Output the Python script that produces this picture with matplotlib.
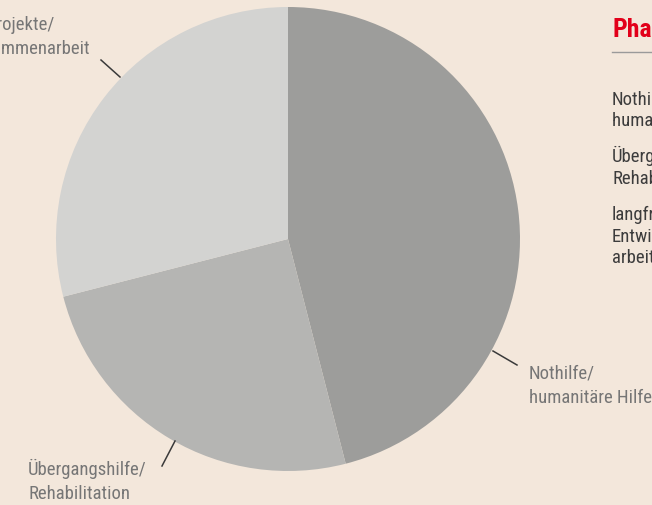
import matplotlib
matplotlib.use('Agg')
import matplotlib.pyplot as plt

plt.rcParams['font.family'] = ['Roboto Condensed', 'Asap Condensed', 'Barlow Condensed',
                               'Liberation Sans Narrow', 'DejaVu Sans']

# Anteile in Prozent (im Uhrzeigersinn ab 12 Uhr)
categories = [['Nothilfe/', 'humanitäre Hilfe'],
              ['Übergangshilfe/', 'Rehabilitation'],
              ['Entwicklungsprojekte/', 'Entwicklungszusammenarbeit']]
values = [46, 25, 29]
colors = ['#9d9d9b', '#b5b5b3', '#d3d3d1']
legend_title = 'Phasen'
legend_items = [['Nothilfe/', 'humanitäre Hilfe'],
                ['Übergangshilfe/', 'Rehabilitation'],
                ['langfristige', 'Entwicklungszusammen-', 'arbeit']]

W, H = 652, 506
bg = '#f3e7db'
fig = plt.figure(figsize=(W / 100, H / 100), dpi=100, facecolor=bg)
ax = fig.add_axes([0, 0, 1, 1])
ax.set_facecolor(bg)

cx, cy, r = 288, H - 240, 232
ax.pie(values, colors=colors, startangle=90, counterclock=False,
       center=(cx, cy), radius=r, frame=True,
       wedgeprops=dict(linewidth=0))
ax.set_xlim(0, W)
ax.set_ylim(0, H)
ax.axis('off')


def lines(x, y0, txts, step, ha='left', **kw):
    # y0 = Grundlinie der ersten Zeile in Bildpixeln (von oben)
    for i, t in enumerate(txts):
        ax.text(x, H - (y0 + i * step), t, ha=ha, va='baseline', **kw)


lab_col = '#767676'
line_col = '#3a3a3a'
# Beschriftungen mit Hinweislinien
ax.plot([493, 517], [H - 352, H - 366], color=line_col, lw=1.1)
lines(529, 379, categories[0], 24, fontsize=13.5, color=lab_col)

ax.plot([175, 162], [H - 442, H - 467], color=line_col, lw=1.1)
lines(28, 475, categories[1], 24, fontsize=13.5, color=lab_col)

ax.plot([101, 120], [H - 61, H - 78], color=line_col, lw=1.1)
ax.text(55, H - 30, categories[2][0], ha='right', va='baseline', fontsize=13.5, color=lab_col)
ax.text(90, H - 54, categories[2][1], ha='right', va='baseline', fontsize=13.5, color=lab_col)

# Legende rechts (angeschnitten)
ax.text(612, H - 37, legend_title, ha='left', va='baseline', fontsize=18.5,
        fontweight='bold', color='#e2001a')
ax.plot([612, W], [H - 53, H - 53], color='#9a9a9a', lw=1)
for y, t in zip([104, 162, 220], legend_items):
    lines(612, y, t, 21.5, fontsize=13.5, color='#3c3c3c')

fig.savefig('out.png', dpi=100, facecolor=bg)
